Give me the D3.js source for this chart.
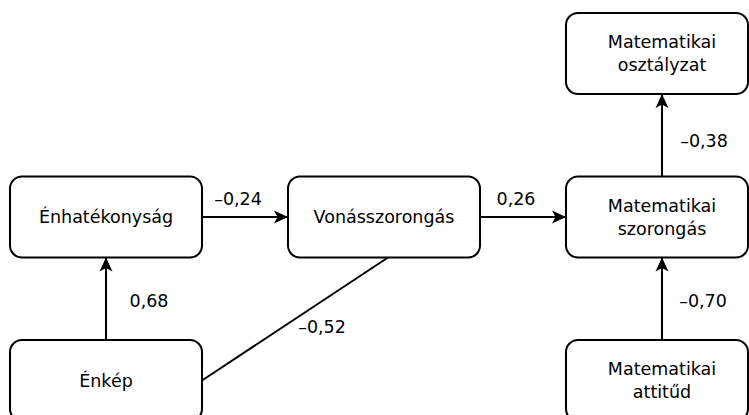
<!DOCTYPE html>
<html>
<head>
<meta charset="utf-8">
<script src="https://cdn.jsdelivr.net/npm/d3@7"></script>
<style>
  html, body { margin: 0; padding: 0; background: #fff; }
  svg { display: block; }
  text { font-family: "DejaVu Sans", Verdana, sans-serif; font-size: 17.5px; fill: #000; }
</style>
</head>
<body>
<svg id="chart" width="749" height="415"></svg>
<script>
// nodes: label lines, grid column, grid row
var nodeNames = [["Énhatékonyság"], ["Énkép"], ["Vonásszorongás"],
                 ["Matematikai", "szorongás"], ["Matematikai", "osztályzat"], ["Matematikai", "attitűd"]];
var nodeCols = [0, 0, 1, 2, 2, 2];
var nodeRows = [1, 2, 1, 1, 0, 2];

// paths: from node, to node, coefficient, arrowhead
var pathFrom = [1, 0, 1, 2, 3, 5];
var pathTo = [0, 2, 2, 3, 4, 3];
var pathCoef = ["0,68", "–0,24", "–0,52", "0,26", "–0,38", "–0,70"];
var pathArrow = [true, true, false, true, true, true];

var svg = d3.select("#chart");
var W = 749;

var x = d3.scaleLinear().domain([0, 2]).range([10, 566]);
var y = d3.scaleLinear().domain([0, 2]).range([13, 340]);
var boxW = 192, boxH = 81;

// right column is cut by the canvas edge
var nodes = nodeNames.map(function (n, i) {
  var x0 = x(nodeCols[i]), y0 = y(nodeRows[i]);
  return { lines: n, x0: x0, y0: y0, w: Math.min(boxW, W - 1 - x0), h: boxH,
           cx: x0 + boxW / 2, cy: y0 + boxH / 2 };
});

svg.append("defs").append("marker")
  .attr("id", "arrow")
  .attr("markerUnits", "userSpaceOnUse")
  .attr("viewBox", "0 -7 14 14")
  .attr("refX", 14).attr("refY", 0)
  .attr("markerWidth", 14).attr("markerHeight", 14)
  .attr("orient", "auto")
  .append("path")
  .attr("d", "M0,-6.5L14,0L0,6.5L3.5,0Z")
  .attr("fill", "#000");

// endpoints from box sides
function anchor(a, b) {
  if (a.y0 === b.y0) return a.cx < b.cx ? [a.x0 + boxW, a.cy, b.x0, b.cy] : [a.x0, a.cy, b.x0 + boxW, b.cy];
  if (a.x0 === b.x0) return a.cy > b.cy ? [a.cx, a.y0, b.cx, b.y0 + b.h] : [a.cx, a.y0 + a.h, b.cx, b.y0];
  return [a.x0 + boxW, a.cy, b.cx + 4, b.y0 + b.h];
}

// label placement relative to path midpoint
var labelOffset = [[43, 2.5], [-7, -18], [27, 8], [-7, -18], [42, 6], [41, 2]];

pathFrom.forEach(function (f, i) {
  var p = anchor(nodes[f], nodes[pathTo[i]]);
  svg.append("line")
    .attr("x1", p[0]).attr("y1", p[1]).attr("x2", p[2]).attr("y2", p[3])
    .attr("stroke", "#000").attr("stroke-width", 2)
    .attr("marker-end", pathArrow[i] ? "url(#arrow)" : null);
  svg.append("text")
    .attr("x", (p[0] + p[2]) / 2 + labelOffset[i][0])
    .attr("y", (p[1] + p[3]) / 2 + labelOffset[i][1])
    .attr("text-anchor", "middle")
    .attr("dominant-baseline", "central")
    .text(pathCoef[i]);
});

var g = svg.selectAll("g.node").data(nodes).enter().append("g").attr("class", "node");
g.append("rect")
  .attr("x", function (d) { return d.x0; }).attr("y", function (d) { return d.y0; })
  .attr("width", function (d) { return d.w; }).attr("height", function (d) { return d.h; })
  .attr("rx", 12).attr("ry", 12)
  .attr("fill", "#fff").attr("stroke", "#000").attr("stroke-width", 2);
g.each(function (d) {
  var n = d.lines.length;
  d3.select(this).selectAll("text").data(d.lines).enter().append("text")
    .attr("x", d.cx)
    .attr("y", function (t, k) { return d.cy + (k - (n - 1) / 2) * 23; })
    .attr("text-anchor", "middle")
    .attr("dominant-baseline", "central")
    .text(function (t) { return t; });
});
</script>
</body>
</html>
